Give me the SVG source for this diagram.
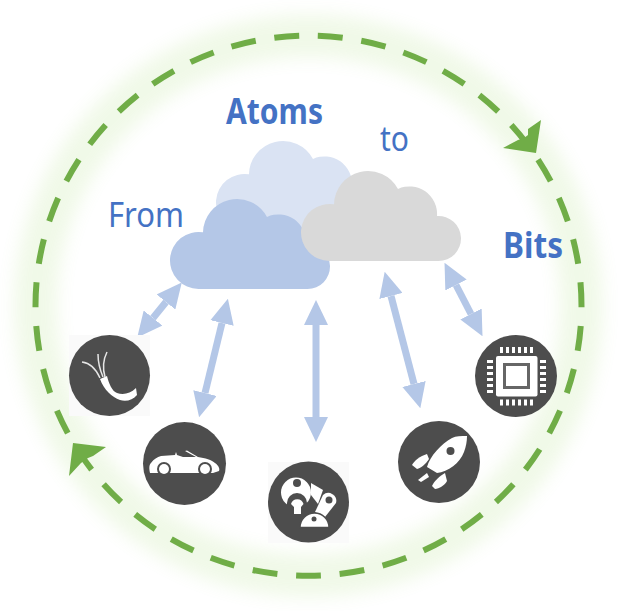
<svg xmlns="http://www.w3.org/2000/svg" width="633" height="611" viewBox="0 0 633 611">
<style>
.ring{fill:none;stroke:#70ad47;stroke-width:6;stroke-dasharray:.571 .429;stroke-dashoffset:.2855}
.glow{fill:none;stroke:#8fd14f;stroke-width:42;opacity:.13}
.link{stroke:#b4c7e7;stroke-width:7;fill:none;marker-start:url(#a);marker-end:url(#a)}
.disc{fill:#4d4d4d}
.w{fill:#fff}
.d{fill:#4d4d4d}
.lbl{fill:#4472c4;font-family:"Noto Sans","Liberation Sans",sans-serif;font-size:35px}
.b{font-weight:700}
.pin{fill:#fff}
</style>
<defs>
<filter id="blur" x="-20%" y="-20%" width="140%" height="140%"><feGaussianBlur stdDeviation="9"/></filter>
<marker id="a" viewBox="0 0 25 24" refX="0" refY="12" markerUnits="userSpaceOnUse" markerWidth="25" markerHeight="24" orient="auto-start-reverse"><path d="M0 0L25 12L0 24Z" fill="#b4c7e7"/></marker>
<path id="cloud" d="M198.500 289A28.500 28.500 0 1 1 203 232.360A34 34 0 0 1 267 217A27.500 27.500 0 0 1 306 244.050A22.500 22.500 0 1 1 307.500 289Z"/>
</defs>
<g id="ring">
<path class="glow" d="M308.500 575.700A273 270 0 1 1 308.500 35.700A273 270 0 1 1 308.500 575.700Z" filter="url(#blur)"/>
<path class="ring" pathLength="39" d="M308.500 575.700A273 270 0 1 1 308.500 35.700A273 270 0 1 1 308.500 575.700Z"/>
<path d="M541 120L536 153L503 148L518 140L524 138L528 135L528 129Z" fill="#70ad47"/>
<path d="M73 443L106 447L93 456L88 458L81 463L69 476Z" fill="#70ad47"/>
</g>
<g id="cloud-atoms"><use href="#cloud" x="46" y="-58" fill="#dae3f3"/></g>
<g id="cloud-from"><use href="#cloud" fill="#b4c7e7"/></g>
<g id="cloud-to"><use href="#cloud" x="131" y="-28" fill="#d9d9d9"/></g>
<g id="connectors">
<path class="link" d="M166 302L153 318"/>
<path class="link" d="M222 323L205 393"/>
<path class="link" d="M316 325L316 417"/>
<path class="link" d="M391 296L414 384"/>
<path class="link" d="M456 285L471 314"/>
</g>
<text class="lbl b" x="226" y="124" textLength="97" lengthAdjust="spacingAndGlyphs">Atoms</text>
<text class="lbl" x="380" y="151" textLength="29" lengthAdjust="spacingAndGlyphs">to</text>
<text class="lbl" x="108" y="227" textLength="76" lengthAdjust="spacingAndGlyphs">From</text>
<text class="lbl b" x="503" y="258" textLength="60" lengthAdjust="spacingAndGlyphs">Bits</text>
<g id="node-cable">
<rect x="69" y="335" width="81" height="81" fill="#fafafa"/>
<circle class="disc" cx="109.500" cy="375.500" r="40.500"/>
<path class="w" d="M100 379L107 376C109 384 112 391 117 393C123 395 130 394 136 388L137 395C133 400 126 402 120 400C112 397 104 390 100 379Z"/>
<path d="M82 362C90 363 96 369 100 378M98 354C98 362 100 370 103 377M107 352C103 360 103 370 105 377" fill="none" stroke="#e6e6e6" stroke-width="1.500"/>
</g>
<g id="node-car">
<circle class="disc" cx="184.500" cy="463.500" r="41.500"/>
<path class="w" d="M150 473C149 468 149 465 151 463C154 459 157 457 161 456L175 455L176 452L177 455L183 457L196 457L185 451L187 450.500L198 457C205 458 212 460 215 463C219 466 220 469 219 471L213 473L156 473Z"/>
<circle class="d" cx="164" cy="469" r="7"/><circle class="w" cx="164" cy="469" r="5"/>
<circle class="d" cx="205" cy="469" r="7"/><circle class="w" cx="205" cy="469" r="5"/>
</g>
<g id="node-robot">
<rect x="268" y="462" width="81" height="81" fill="#fafafa"/>
<circle class="disc" cx="308.500" cy="502" r="40.500"/>
<circle class="w" cx="296" cy="492.500" r="15"/>
<circle class="d" cx="297" cy="483" r="4"/>
<path class="d" d="M287 510V503A10 10 0 0 1 307 503V510Z"/>
<path class="w" d="M291 504A6.500 6.500 0 0 1 303.500 504L301 507V514H294V507Z"/>
<path class="w" d="M311 483L323 490L318 504L311 495Z"/>
<path class="w" d="M323 495A8 8 0 0 1 336 503L325 517L315 512Z"/>
<circle class="d" cx="329" cy="500" r="3.500"/>
<path class="w" d="M300 527.500A14.500 14.500 0 0 1 329 527.500Z" stroke="#4d4d4d" stroke-width="1.500"/>
<circle class="d" cx="314" cy="519" r="2.500"/>
</g>
<g id="node-rocket">
<circle class="disc" cx="439" cy="462" r="41"/>
<path class="w" d="M467 436C461 436 456 436 452 438C441 444 430 456 427 467L437 473C448 472 460 463 464 452C466 447 467 441 467 436Z"/>
<circle class="d" cx="450.500" cy="451" r="4"/>
<path class="w" d="M427 454C420 456 414 461 412 465L417 469C421 468 426 464 429 459Z"/>
<path class="w" d="M427 473L418 480L421 482L429 477Z"/>
<path class="w" d="M445 473C440 476 434 481 432 486L435 489C439 489 445 485 447 481Z"/>
</g>
<g id="node-chip">
<circle class="disc" cx="516" cy="376" r="41"/>
<rect class="w" x="496" y="356" width="41.500" height="40.500" rx="2"/>
<rect x="504.500" y="364.500" width="24" height="23" fill="#fff" stroke="#666" stroke-width="3"/>
<path class="pin" d="M500 347h3v6h-3zM506 347h3v6h-3zM512 347h3v6h-3zM518 347h3v6h-3zM524 347h3v6h-3zM530 347h3v6h-3zM500 399.500h3v6h-3zM506 399.500h3v6h-3zM512 399.500h3v6h-3zM518 399.500h3v6h-3zM524 399.500h3v6h-3zM530 399.500h3v6h-3z"/>
<path class="pin" d="M487 360h6v3h-6zM487 366h6v3h-6zM487 372h6v3h-6zM487 378h6v3h-6zM487 384h6v3h-6zM487 390h6v3h-6zM540 360h6v3h-6zM540 366h6v3h-6zM540 372h6v3h-6zM540 378h6v3h-6zM540 384h6v3h-6zM540 390h6v3h-6z"/>
</g>
</svg>
